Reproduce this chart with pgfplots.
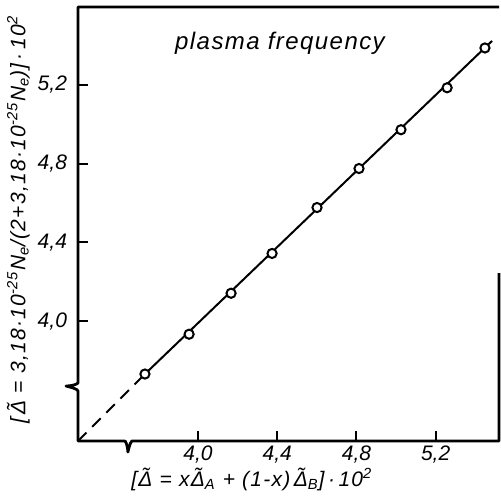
\documentclass[border=0pt]{standalone}
\usepackage{fontspec}
\setmainfont{Liberation Sans}
\newfontfamily\spaced[LetterSpace=6]{Liberation Sans}
\usepackage{pgfplots}
\pgfplotsset{compat=1.18}
\begin{document}
\begin{tikzpicture}
\begin{axis}[
  width=210.5pt, height=217pt, scale only axis,
  xmin=3.394, xmax=5.52, ymin=3.392, ymax=5.595,
  clip=false,
  axis line style={draw=none},
  xtick={4.0,4.4,4.8,5.2}, ytick={4.0,4.4,4.8,5.2},
  xtick pos=left, ytick pos=left,
  tick align=inside, major tick length=5pt,
  tick style={line width=1pt, black},
  ticklabel style={font=\fontsize{10.5}{12}\selectfont\itshape},
  yticklabel style={xshift=-2pt},
  xticklabel style={yshift=1pt},
  /pgf/number format/use comma,
  /pgf/number format/fixed,
  /pgf/number format/fixed zerofill,
  /pgf/number format/precision=1,
  /pgf/number format/assume math mode=true,
  xlabel={[Δ̃ = xΔ̃\textsubscript{A} + (1-x)\,Δ̃\textsubscript{B}]\,·\,10\textsuperscript{2}},
  ylabel={[\,Δ̃ = 3,18·10\textsuperscript{-25}N\textsubscript{e}/(2+3,18·10\textsuperscript{-25}N\textsubscript{e})]\,·\,10\textsuperscript{2}},
  xlabel style={at={(rel axis cs:0.413,-0.088)}, anchor=center, font=\fontsize{10.5}{12}\selectfont\spaced\itshape},
  ylabel style={at={(rel axis cs:-0.142,0.51)}, anchor=center, font=\fontsize{10.5}{12}\selectfont\spaced\itshape},
]
\coordinate (ll) at (rel axis cs:0,0);
\coordinate (ur) at (rel axis cs:1,1);
\coordinate (YB) at (axis cs:3.394,3.666);
\coordinate (XB) at (axis cs:3.646,3.392);
% frame with break marks
\draw[line width=1.4pt, line join=round]
  (rel axis cs:1,1) -- (rel axis cs:0,1) -- ([yshift=2pt]YB)
  .. controls +(-1pt,-1pt) and +(2pt,0pt) .. ([xshift=-6pt,yshift=0.5pt]YB)
  .. controls +(2pt,-0.5pt) and +(0pt,1pt) .. ([yshift=-2pt]YB)
  -- (rel axis cs:0,0) -- ([xshift=-2pt]XB)
  .. controls +(1pt,1pt) and +(0pt,2pt) .. ([yshift=-5.5pt]XB)
  .. controls +(0.5pt,2pt) and +(-1pt,-1pt) .. ([xshift=2pt]XB)
  -- (rel axis cs:1,0) -- (rel axis cs:1,0.387);
% fitted line
\addplot[black, line width=1pt, dash pattern=on 6pt off 4pt]
  coordinates {(3.394,3.392) (3.732,3.732)};
\addplot[black, line width=1pt]
  coordinates {(3.732,3.732) (5.485,5.423)};
% measured points
\addplot[only marks, mark=*, mark size=2.3pt,
  mark options={draw=black, fill=white, line width=1pt}]
  coordinates {
  (3.732,3.732) (3.955,3.934) (4.167,4.142) (4.374,4.344) (4.601,4.577)
  (4.813,4.775) (5.025,4.972) (5.258,5.185) (5.449,5.387)};
\node[font=\fontsize{12}{14}\selectfont\spaced\itshape] at (axis cs:4.414,5.413) {plasma frequency};
\end{axis}
\pgfresetboundingbox
\path ([shift={(-39pt,-27.5pt)}]ll) rectangle ([shift={(1pt,3.5pt)}]ur);
\end{tikzpicture}
\end{document}
